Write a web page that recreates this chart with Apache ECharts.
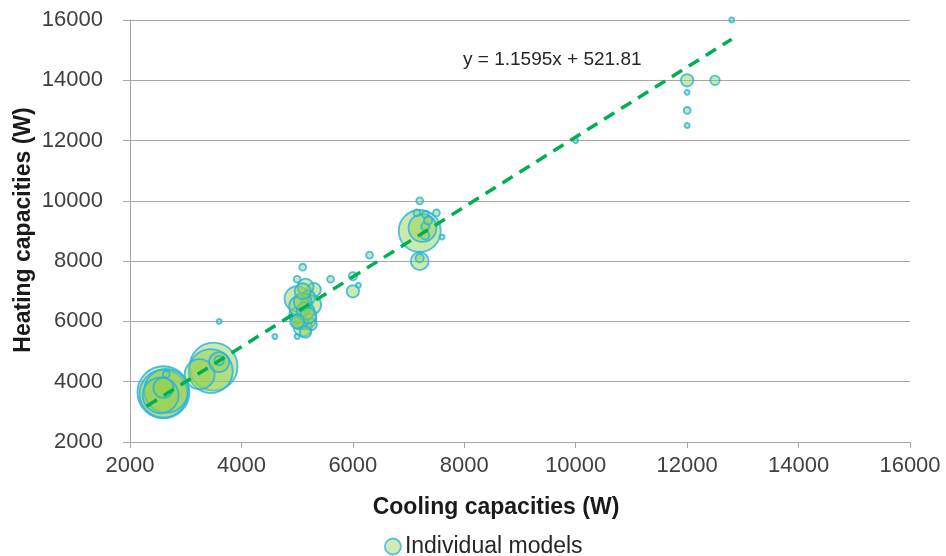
<!DOCTYPE html>
<html>
<head>
<meta charset="utf-8">
<title>Heating vs cooling capacities</title>
<script src="https://cdn.jsdelivr.net/npm/echarts@6/dist/echarts.min.js"></script>
<style>
  html, body { margin: 0; padding: 0; background: #ffffff; }
  #chart { width: 946px; height: 556px; }
</style>
</head>
<body>
<div id="chart"></div>
<script>
// Axis ticks (W)
const xTicks = [2000, 4000, 6000, 8000, 10000, 12000, 14000, 16000];
const yTicks = [2000, 4000, 6000, 8000, 10000, 12000, 14000, 16000];

// Each model group: cooling capacity (W), heating capacity (W), number of models
const cooling = [
  2600, 2600, 2650, 2550, 2600, 2650,
  3500, 3450, 3250, 3600, 3600,
  3600, 4600,
  5000, 5300, 5150, 5250, 5150, 5100, 5000, 5000, 5000, 5100, 5250, 5050, 5200,
  5050, 5150, 5100, 5200, 5100, 5000, 5150,
  5600, 6000, 6000, 6100, 6300,
  7200, 7250, 7300, 7150, 7300, 7350, 7300, 7200, 7500, 7600, 7200, 7200,
  10000,
  12000, 12500, 12000, 12000, 12000, 12800
];
const heating = [
  3650, 3600, 3700, 3550, 3800, 4250,
  4500, 4350, 4250, 4650, 4700,
  6000, 5500,
  6750, 7050, 7150, 6550, 6100, 5800, 6200, 5500, 7400, 7800, 5900, 6000, 6800,
  6500, 6350, 6650, 6200, 7000, 6000, 5650,
  7400, 7500, 7000, 7200, 8200,
  9000, 9100, 9150, 9600, 9550, 9350, 8850, 10000, 9600, 8800, 8000, 8100,
  12000,
  14000, 14000, 13600, 13000, 12500, 16000
];
const models = [
  131, 111, 93, 62, 19, 2,
  111, 93, 43, 19, 4,
  1, 1,
  30, 9, 12, 19, 22, 15, 12, 1, 2, 2, 6, 12, 9,
  22, 15, 15, 12, 12, 9, 6,
  2, 3, 7, 1, 2,
  85, 37, 3, 2, 2, 3, 3, 2, 2, 1, 15, 3,
  1,
  7, 4, 1, 2, 1, 1
];

// Linear fit: heating = slope * cooling + intercept
const fitSlope = 1.1595;
const fitIntercept = 521.81;
const fitRange = [2300, 12800];

const points = cooling.map((c, i) => [c, heating[i], models[i]]);
const fitLine = fitRange.map(x => [x, fitSlope * x + fitIntercept]);

const FONT = "'Liberation Sans', Arial, sans-serif";
const GRID_COLOR = '#A6A6A6';
const LABEL_COLOR = '#404040';

const chart = echarts.init(document.getElementById('chart'), null, { renderer: 'canvas' });

chart.setOption({
  animation: false,
  backgroundColor: '#ffffff',
  textStyle: { fontFamily: FONT },
  grid: { left: 130, right: 36, top: 20, bottom: 114, containLabel: false },
  xAxis: {
    type: 'value',
    min: xTicks[0],
    max: xTicks[xTicks.length - 1],
    interval: xTicks[1] - xTicks[0],
    axisLine: { show: true, lineStyle: { color: GRID_COLOR, width: 1 } },
    axisTick: { show: true, length: 6, lineStyle: { color: GRID_COLOR } },
    splitLine: { show: false },
    axisLabel: { fontSize: 22, color: LABEL_COLOR, margin: 13, fontFamily: FONT, formatter: v => String(v) }
  },
  yAxis: {
    type: 'value',
    min: yTicks[0],
    max: yTicks[yTicks.length - 1],
    interval: yTicks[1] - yTicks[0],
    axisLine: { show: true, lineStyle: { color: GRID_COLOR, width: 1 } },
    axisTick: { show: true, length: 7, lineStyle: { color: GRID_COLOR } },
    splitLine: { show: true, lineStyle: { color: GRID_COLOR, width: 1 } },
    axisLabel: { fontSize: 22, color: LABEL_COLOR, margin: 27, fontFamily: FONT, formatter: v => String(v) }
  },
  legend: {
    data: [{
      name: 'Individual models',
      icon: 'circle',
      itemStyle: { color: '#C6E5A5', borderColor: '#2FB2E6', borderWidth: 1.8 }
    }],
    left: 379,
    top: 530,
    itemWidth: 16,
    itemHeight: 16,
    itemGap: 6,
    textStyle: { fontSize: 23, color: '#262626', fontFamily: FONT, padding: [0, 0, 0, -1] }
  },
  series: [
    {
      name: 'Individual models',
      type: 'scatter',
      data: points,
      symbol: 'circle',
      symbolSize: v => 4.5 * Math.sqrt(v[2]) + 0.5,
      itemStyle: {
        color: 'rgba(146, 208, 80, 0.6)',
        borderColor: '#22B0EC',
        borderWidth: 1.8
      },
      emphasis: { disabled: true },
      z: 2
    },
    {
      name: 'Linear fit',
      type: 'line',
      data: fitLine,
      symbol: 'none',
      lineStyle: { color: '#00B050', width: 3.5, type: [12, 8] },
      silent: true,
      z: 3
    }
  ],
  graphic: [
    {
      type: 'text',
      x: 463,
      y: 60,
      style: {
        text: 'y = ' + fitSlope + 'x + ' + fitIntercept,
        font: '19px ' + FONT,
        fill: '#262626',
        textAlign: 'left',
        textVerticalAlign: 'middle'
      }
    },
    {
      type: 'text',
      x: 496,
      y: 508,
      style: {
        text: 'Cooling capacities (W)',
        font: 'bold 23px ' + FONT,
        fill: '#1a1a1a',
        textAlign: 'center',
        textVerticalAlign: 'middle'
      }
    },
    {
      type: 'text',
      x: 24,
      y: 230,
      rotation: Math.PI / 2,
      style: {
        text: 'Heating capacities (W)',
        font: 'bold 23px ' + FONT,
        fill: '#1a1a1a',
        textAlign: 'center',
        textVerticalAlign: 'middle'
      }
    }
  ]
});
</script>
</body>
</html>
